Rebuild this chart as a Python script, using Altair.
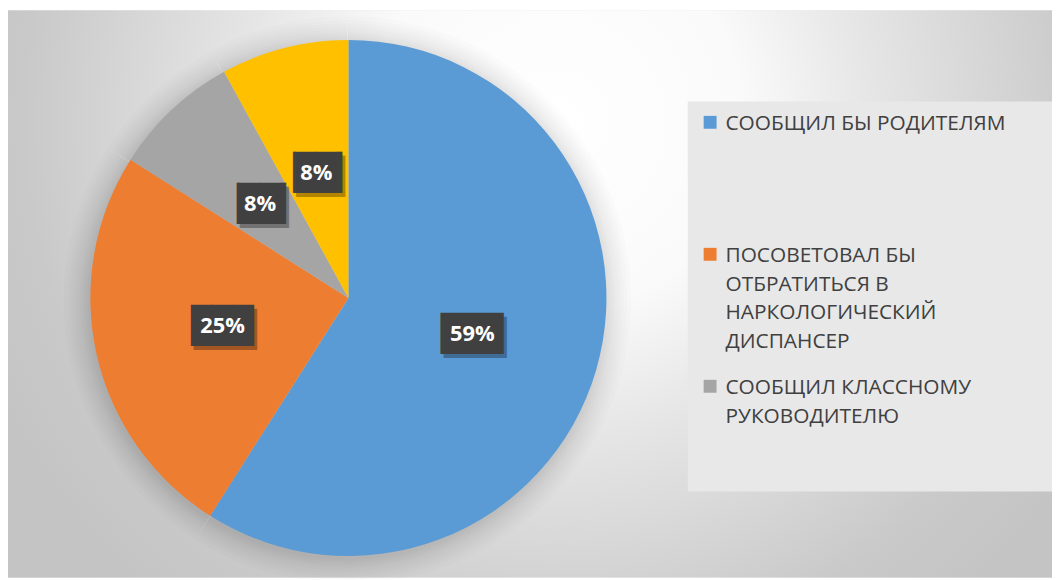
import altair as alt
import pandas as pd

# ---- data ----
categories = [
    "СООБЩИЛ БЫ РОДИТЕЛЯМ",
    "ПОСОВЕТОВАЛ БЫ ОТБРАТИТЬСЯ В НАРКОЛОГИЧЕСКИЙ ДИСПАНСЕР",
    "СООБЩИЛ КЛАССНОМУ РУКОВОДИТЕЛЮ",
    "ДРУГОЕ",
]
values = [59, 25, 8, 8]
colors = ["#5B9BD5", "#ED7D31", "#A5A5A5", "#FFC000"]
legend_lines = [
    ["СООБЩИЛ БЫ РОДИТЕЛЯМ"],
    ["ПОСОВЕТОВАЛ БЫ", "ОТБРАТИТЬСЯ В", "НАРКОЛОГИЧЕСКИЙ", "ДИСПАНСЕР"],
    ["СООБЩИЛ КЛАССНОМУ", "РУКОВОДИТЕЛЮ"],
]
shown_in_legend = categories[:3]

df = pd.DataFrame({"cat": categories, "value": values, "idx": list(range(len(categories)))})


def js_str(s):
    return "'" + s.replace("'", "\\'") + "'"


parts = []
for cat, lines in zip(categories, legend_lines):
    arr = "[" + ",".join(js_str(l) for l in lines) + "]"
    parts.append(f"datum.label === {js_str(cat)} ? {arr}")
label_expr = " : ".join(parts) + " : datum.label"

W, H = 1052, 572
CX, CY = 343, 290
R = 260

gradient = {
    "gradient": "radial",
    "x1": 0.525, "y1": 0.336, "r1": 0,
    "x2": 0.525, "y2": 0.336, "r2": 0.6,
    "stops": [
        {"offset": 0.0, "color": "#ffffff"},
        {"offset": 0.3, "color": "#fafafa"},
        {"offset": 0.5, "color": "#e6e6e6"},
        {"offset": 0.85, "color": "#c9c9c9"},
        {"offset": 1.0, "color": "#c4c4c4"},
    ],
}

bg = alt.Chart(pd.DataFrame({"a": [0]})).mark_rect(color=gradient).encode(opacity=alt.value(1))

base = alt.Chart(df).transform_calculate(
    label="format(datum.value, 'd') + '%'",
    box="length(format(datum.value, 'd') + '%') >= 3 ? '███' : '▕██▎'",
).encode(
    theta=alt.Theta("value:Q", stack=True),
    order=alt.Order("idx:Q", sort="ascending"),
)

# soft halo around the pie (many faint rings)
halo = [
    base.mark_arc(x=CX - 1, y=CY + 2, outerRadius=R + d, color="black", opacity=0.013).encode(detail="cat:N")
    for d in (26, 22, 19, 16, 13, 10, 8, 6, 4, 2)
]

pie = base.mark_arc(x=CX, y=CY, outerRadius=R).encode(
    color=alt.Color(
        "cat:N",
        scale=alt.Scale(domain=categories, range=colors),
        legend=alt.Legend(
            title="\u00a0",
            titleOrient="right",
            titleFont="Open Sans",
            titleFontSize=230,
            titleBaseline="top",
            titlePadding=51,
            titleLimit=3000,
            orient="none",
            legendX=685,
            legendY=92,
            values=shown_in_legend,
            labelExpr=label_expr,
            labelFont="Open Sans",
            labelFontSize=21,
            labelColor="#404040",
            labelLimit=1000,
            labelBaseline="top",
            symbolType="M-1,0.46H1V2.46H-1Z",
            symbolSize=169,
            symbolStrokeWidth=0,
            symbolOffset=11,
            labelOffset=5,
            padding=1,
            fillColor="#e8e8e8",
            rowPadding=14,
            gridAlign="all",
        ),
    )
)

LR = 130
box_shadow = base.mark_text(
    x=CX, y=CY, radius=LR, dx=3, dy=4, font="DejaVu Sans Mono", fontSize=35,
    color="black", opacity=0.3, align="center", baseline="middle",
).encode(detail="cat:N", text="box:N")
box = base.mark_text(
    x=CX, y=CY, radius=LR, font="DejaVu Sans Mono", fontSize=35,
    color="#404040", align="center", baseline="middle",
).encode(detail="cat:N", text="box:N")
labels = base.mark_text(
    x=CX, y=CY, radius=LR, font="Open Sans", fontSize=22, fontWeight="bold",
    color="white", align="center", baseline="middle",
).encode(detail="cat:N", text="label:N")

chart = alt.layer(bg, *halo, pie, box_shadow, box, labels).properties(
    width=W, height=H, padding=0, autosize=alt.AutoSizeParams(type="none")
).configure(
    background="white",
    style={"guide-label": {"lineHeight": 29}},
).configure_view(
    stroke="#bdbdbd", strokeWidth=1
)

chart.save("out.html", embed_options={"renderer": "svg", "actions": False})
